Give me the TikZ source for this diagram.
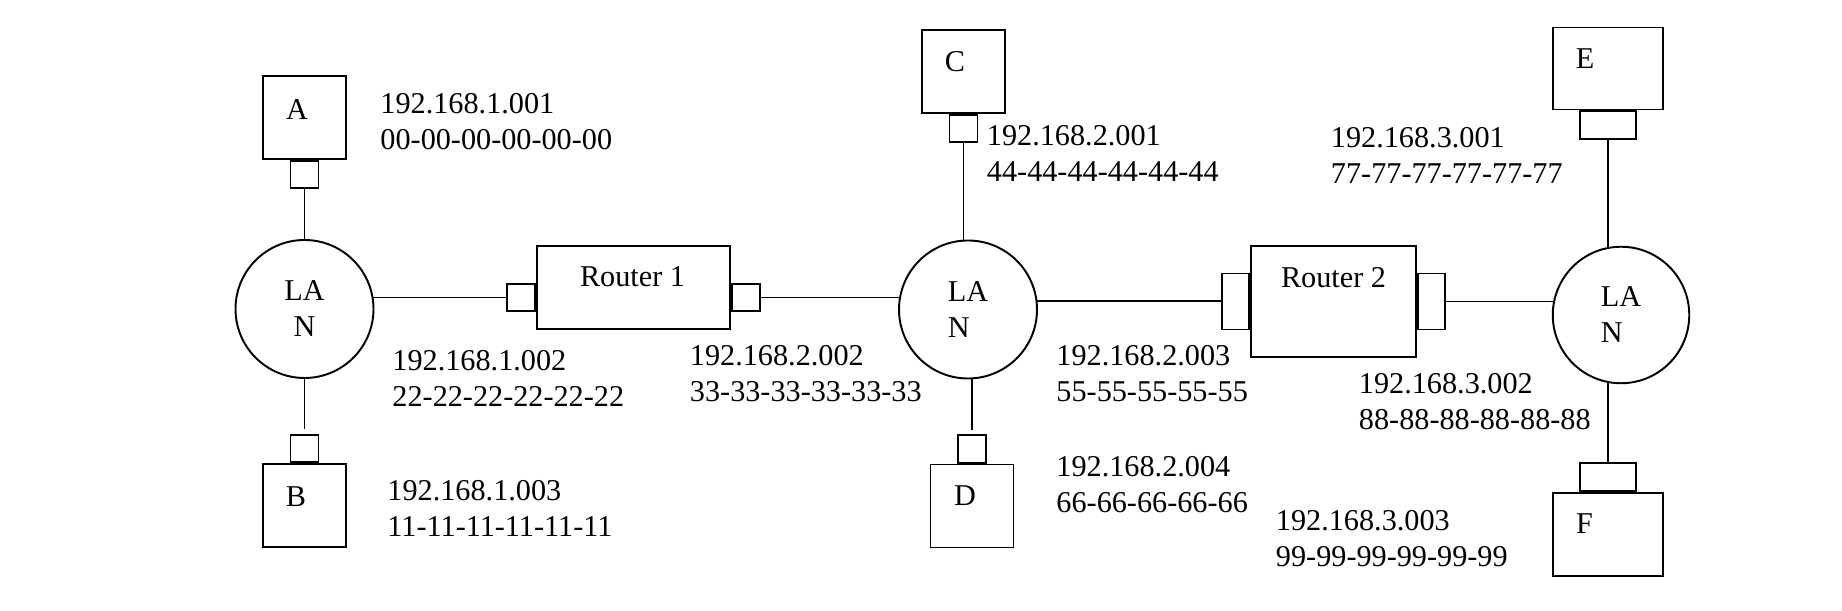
\documentclass[tikz,border=0pt]{standalone}
\usepackage{fontspec}
\setmainfont{Liberation Serif}
\usetikzlibrary{positioning}

\begin{document}
\begin{tikzpicture}[font=\fontsize{17.2}{20.5}\selectfont, line width=1.1pt,
    host/.style={draw, minimum width=1.66cm, minimum height=1.66cm, inner sep=0pt},
    port/.style={draw, minimum width=0.56cm, minimum height=0.55cm, inner sep=0pt},
    lan/.style={draw, circle, minimum size=2.76cm, inner sep=0pt, align=left},
    router/.style={draw, inner sep=0pt},
    addr/.style={anchor=base west, align=left, inner sep=0pt}]

        \useasboundingbox (0,0) rectangle (36.84,12.22);

        % first LAN with A and B
        \node[lan, align=center] (lan1) at (6.09, 6.04) {LA\\N};
        \node[host] (A) at (6.09, 9.87) {};
        \node[port, below=0pt of A] (pA) {};
        \node (labA) at (5.94, 10.03) {A};
        \node[host] (B) at (6.09, 2.11) {};
        \node[port, above=0pt of B] (pB) {};
        \node (labB) at (5.92, 2.29) {B};

        \draw (pA) -- (lan1);
        \draw[shorten >=0.09cm] (lan1) -- (pB);

        % addr nodes sit on the baseline of their last line
        \node[addr] (ipA) at (7.59, 9.23) {192.168.1.001\\00-00-00-00-00-00};
        \node[addr] (ipL1) at (7.83, 4.09) {192.168.1.002\\22-22-22-22-22-22};
        \node[addr] (ipB) at (7.73, 1.49) {192.168.1.003\\11-11-11-11-11-11};

        % Router 1
        \node[router, minimum width=3.85cm, minimum height=1.67cm] (R1) at (12.67, 6.47) {};
        \node (labR1) at (12.65, 6.68) {Router 1};
        \node[port, left=0pt of R1, yshift=-0.2cm] (r1a) {};
        \node[port, right=0pt of R1, yshift=-0.2cm] (r1b) {};
        \node[addr] (ipR1) at (13.78, 4.19) {192.168.2.002\\33-33-33-33-33-33};

        \draw (r1a.west) -- (r1a.west -| lan1.10);

        % second LAN with C and D
        \node[lan] (lan2) at (19.36, 6.03) {LA\\N};
        \node[host] (C) at (19.27, 10.79) {};
        \node[port, below=0pt of C] (pC) {};
        \node (labC) at (19.10, 10.99) {C};
        \node[host] (D) at (19.44, 2.10) {};
        \node[port, above=0pt of D] (pD) {};
        \node (labD) at (19.30, 2.30) {D};

        \draw (pC) -- (pC |- lan2.north);
        \draw[shorten >=0.09cm] (pD |- lan2.south) -- (pD);
        \draw (r1b.east) -- (r1b.east -| lan2.170);

        \node[addr] (ipC) at (19.72, 8.59) {192.168.2.001\\44-44-44-44-44-44};
        \node[addr] (ipL2) at (21.11, 4.19) {192.168.2.003\\55-55-55-55-55};
        \node[addr] (ipD) at (21.11, 1.97) {192.168.2.004\\66-66-66-66-66};

        % Router 2
        \node[router, minimum width=3.3cm, minimum height=2.21cm] (R2) at (26.67, 6.19) {};
        \node (labR2) at (26.67, 6.67) {Router 2};
        \node[port, minimum width=0.55cm, minimum height=1.12cm, left=0pt of R2] (r2a) {};
        \node[port, minimum width=0.55cm, minimum height=1.12cm, right=0pt of R2] (r2b) {};

        \draw (lan2.7) -- (lan2.7 -| r2a.west);

        % third LAN with E and F
        \node[lan, minimum size=2.73cm] (lan3) at (32.42, 5.92) {LA\\N};
        \node[host, minimum width=2.21cm, minimum height=1.64cm] (E) at (32.16, 10.85) {};
        \node[port, minimum width=1.12cm, below=0pt of E] (pE) {};
        \node (labE) at (31.70, 11.05) {E};
        \node[host, minimum width=2.21cm, minimum height=1.67cm] (F) at (32.16, 1.53) {};
        \node[port, minimum width=1.12cm, above=0pt of F] (pF) {};
        \node (labF) at (31.69, 1.74) {F};

        \draw (pE) -- (pE |- lan3.101);
        \draw (pF |- lan3.259) -- (pF);
        \draw (r2b.east) -- (r2b.east -| lan3.169);

        \node[addr] (ipE) at (26.60, 8.55) {192.168.3.001\\77-77-77-77-77-77};
        \node[addr] (ipL3) at (27.16, 3.62) {192.168.3.002\\88-88-88-88-88-88};
        \node[addr] (ipF) at (25.50, 0.89) {192.168.3.003\\99-99-99-99-99-99};

\end{tikzpicture}
\end{document}
